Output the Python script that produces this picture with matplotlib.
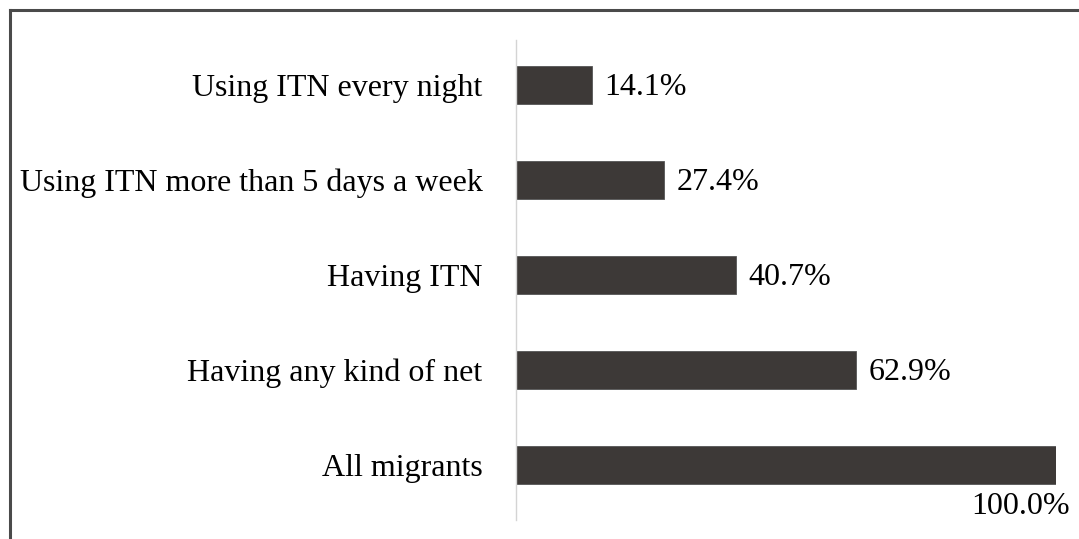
import matplotlib.pyplot as plt
from matplotlib.lines import Line2D

# Data, bottom to top
categories = ['All migrants', 'Having any kind of net', 'Having ITN',
              'Using ITN more than 5 days a week', 'Using ITN every night']
values = [100.0, 62.9, 40.7, 27.4, 14.1]
value_labels = ['100.0%', '62.9%', '40.7%', '27.4%', '14.1%']

plt.rcParams['font.family'] = ['Liberation Serif', 'DejaVu Serif']
FS = 23

fig = plt.figure(figsize=(10.79, 5.39), dpi=100)
ax = fig.add_axes([516 / 1079, 1 - 520 / 539, 540 / 1079, 480 / 539])

pos = list(range(len(categories)))
ax.barh(pos, values, height=0.4, color='#3d3937', edgecolor='#555555', linewidth=0.6)

ax.set_xlim(0, 100)
ax.set_ylim(-0.58, 4.47)
ax.set_yticks(pos)
ax.set_yticklabels(categories, fontsize=FS)
ax.tick_params(axis='y', length=0, pad=24)
ax.set_xticks([])

for s in ['top', 'right', 'bottom']:
    ax.spines[s].set_visible(False)
ax.spines['left'].set_color('#d4d4d4')
ax.spines['left'].set_linewidth(1.0)

# value labels
for p, v, lab in zip(pos, values, value_labels):
    if v >= 100:
        ax.annotate(lab, (v, p - 0.2), xytext=(10, -21.6), textcoords='offset points',
                    ha='right', va='baseline', fontsize=FS, annotation_clip=False)
    else:
        ax.annotate(lab, (v, p), xytext=(9, -7.6), textcoords='offset points',
                    ha='left', va='baseline', fontsize=FS)

# outer frame (only top and left visible in the crop)
fig.add_artist(Line2D([10 / 1079, 10 / 1079], [0, 1 - 10 / 539],
                      transform=fig.transFigure, color='#4a4a4a', lw=2.2))
fig.add_artist(Line2D([10 / 1079, 1], [1 - 10 / 539, 1 - 10 / 539],
                      transform=fig.transFigure, color='#4a4a4a', lw=2.2))

fig.savefig('out.png', dpi=100)
